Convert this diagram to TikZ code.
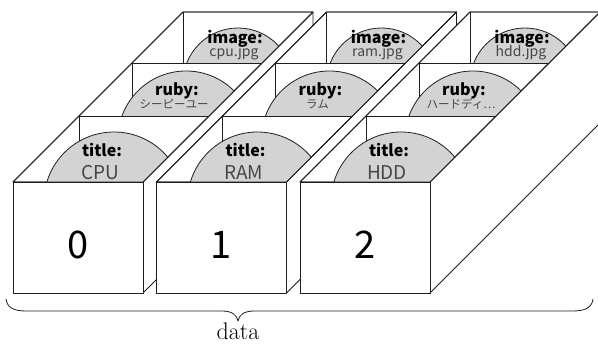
\documentclass[tikz,border=0pt]{standalone}
\usepackage{fontspec}
\newfontfamily\jpfont{Noto Sans CJK JP}
\definecolor{cardgray}{RGB}{211,211,211}
\definecolor{linecol}{RGB}{30,30,30}
\definecolor{subtext}{RGB}{70,70,70}
\begin{document}
\begin{tikzpicture}[x=1pt,y=-1pt,
  edge/.style={draw=linecol,line width=0.8pt,line join=round},
  face/.style={edge,fill=white},
  card/.style={draw=linecol,line width=0.8pt,fill=cardgray},
  lbl/.style={font=\jpfont\bfseries\fontsize{16}{16}\selectfont,text=black,inner sep=0pt,anchor=base},
  valbig/.style={font=\jpfont\fontsize{19}{19}\selectfont,text=subtext,inner sep=0pt,anchor=base},
  valsmall/.style={font=\jpfont\fontsize{11.5}{11.5}\selectfont,text=subtext,inner sep=0pt,anchor=base},
  valmid/.style={font=\jpfont\fontsize{14}{14}\selectfont,text=subtext,inner sep=0pt,anchor=base},
  digit/.style={font=\jpfont\fontsize{38}{38}\selectfont,text=black,inner sep=0pt,anchor=base}
]
\useasboundingbox (0,0) rectangle (598,347);

\foreach \k/\ti/\ru/\im in {0/CPU/シーピーユー/cpu.jpg,1/RAM/ラム/ram.jpg,2/HDD/ハードディ…/hdd.jpg}{
 \begin{scope}[xshift=\k*143.5pt]
  % right face
  \path[face] (143,182) -- (143,293) -- (313,123) -- (313,12) -- cycle;
  % top opening
  \path[face] (13,182) -- (143,182) -- (313,12) -- (183,12) -- cycle;
  % back compartment
  \draw[edge] (183,12) -- (183,63);
  \begin{scope}
   \clip (13,182) -- (143,182) -- (313,12) -- (183,12) -- cycle;
   \clip (0,0) rectangle (400,63);
   \path[card] (238,83) circle[radius=55];
  \end{scope}
  % middle divider
  \draw[edge] (132,63) -- (262,63);
  \draw[edge] (132,63) -- (132,116);
  \begin{scope}
   \clip (13,182) -- (143,182) -- (313,12) -- (183,12) -- cycle;
   \clip (0,0) rectangle (400,116);
   \path[card] (186,139) circle[radius=68];
  \end{scope}
  % front divider
  \draw[edge] (79,116) -- (209,116);
  \draw[edge] (79,116) -- (79,182);
  \begin{scope}
   \clip (13,182) -- (143,182) -- (313,12) -- (183,12) -- cycle;
   \path[card] (114,202) circle[radius=70];
  \end{scope}
  \draw[edge] (13,182) -- (143,182) -- (313,12) -- (183,12) -- cycle;
  % front face
  \path[face] (13,182) rectangle (143,293);
  \node[digit] (num\k) at (78,259) {\k};
  % labels
  \node[lbl] (tl\k) at (102,157) {title:};
  \node[valbig] (tv\k) at (100,180) {\ti};
  \node[lbl] (rl\k) at (177,96) {ruby:};
  \node[valsmall] (rv\k) at (174,108.5) {\ru};
  \node[lbl] (il\k) at (235,44) {image:};
  \node[valmid] (iv\k) at (234,57) {\im};
 \end{scope}
}

% brace
\coordinate (bl) at (6,299);
\coordinate (bt) at (238,321);
\coordinate (br) at (593,299);
\draw[edge] (bl) .. controls (7,307) and (13,311) .. (26,311) -- (222,311)
  .. controls (232,311) and (237,315) .. (bt)
  .. controls (239,315) and (244,311) .. (254,311) -- (573,311)
  .. controls (586,311) and (592,307) .. (br);
\node[font=\fontsize{24}{24}\selectfont,inner sep=0pt,anchor=base] (data) at (238,340) {data};
\end{tikzpicture}
\end{document}
